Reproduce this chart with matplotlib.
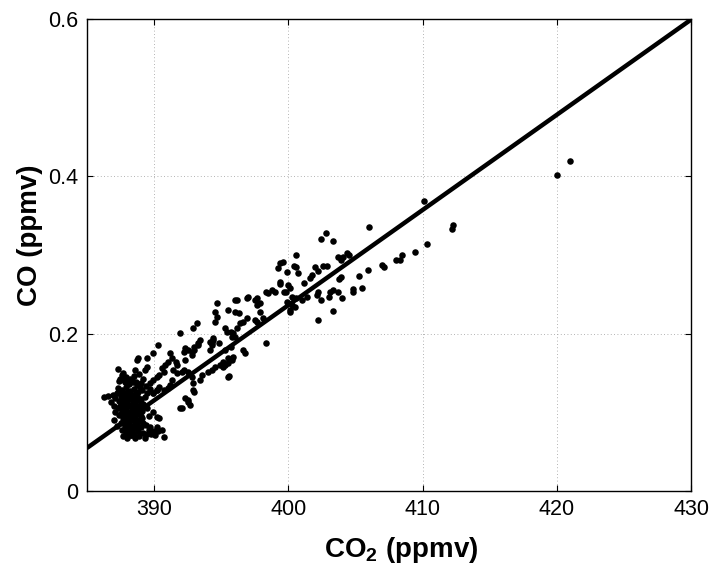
import numpy as np
import matplotlib
matplotlib.use("Agg")
import matplotlib.pyplot as plt

# datos (CO2 en ppmv, CO en ppmv)
co2_points = [
    # zona alta / derecha
    421.0, 420.0, 410.1, 410.3, 412.3, 412.2, 406.0,
    409.4, 408.5, 408.3, 408.0, 407.0, 407.1, 405.9, 405.3, 405.5, 404.8, 404.8,
    404.4, 404.1, 403.9, 403.9,
    402.8, 402.4, 403.3, 400.6, 399.6, 399.4,
    400.4, 400.7, 399.9, 402.0, 402.2, 402.6, 402.9,
    403.7, 404.5, 403.8, 401.8, 401.6, 401.2, 400.1, 399.7, 399.4, 399.4,
    403.3, 403.1, 403.7, 404.0, 403.0, 402.2, 402.4, 402.1, 403.3, 402.2,
    401.4, 401.0, 400.6, 400.3, 400.5, 400.1, 399.9,
    # zona media
    399.2, 400.6, 400.0, 399.8, 399.0, 398.8, 398.5, 398.3, 400.3, 400.1,
    397.7, 397.5, 397.7, 397.9, 396.9, 397.0, 396.2, 396.0, 396.3, 397.9,
    398.1, 397.7, 397.5, 396.6, 396.9, 396.4,
    394.7, 394.5, 394.7, 394.5, 395.5, 396.0,
    395.3, 395.4, 395.7, 395.9, 395.8, 396.0, 396.2, 398.3, 394.4, 394.2, 394.3,
    396.6, 396.8, 395.9, 395.8, 395.5, 395.3, 395.1,
    393.2, 392.9, 391.9, 390.3, 389.9,
    393.4, 393.3, 393.0, 392.8, 392.5, 392.2, 392.3,
    394.4, 394.3, 394.2, 394.8,
    391.2, 391.3, 391.0, 390.8, 390.6, 390.7, 390.4, 390.2, 389.9, 389.7,
    391.6, 391.7, 391.4, 391.3, 391.7,
    392.2, 392.5, 392.8, 392.9, 393.4, 393.6, 394.0, 394.3, 394.5,
    392.9, 392.3, 392.5, 392.7, 391.9,
    391.2, 391.0, 390.7, 390.4, 390.2, 389.9,
    390.2, 390.4,
    395.1, 395.5, 395.7, 395.3, 394.9, 395.5, 395.6,
    392.3, 392.1, 392.8, 393.0, 393.3,
    393.0, 392.5, 392.1,
    390.6, 390.1, 390.7, 390.2,
    # nube densa
    387.6, 387.9, 388.2, 388.5, 388.9, 389.2, 387.4, 387.8, 388.1, 388.4,
    388.7, 389.0, 389.4, 387.3, 387.6, 387.9, 388.2, 388.5, 388.8, 389.1,
    389.5, 387.2, 387.5, 387.8, 388.1, 388.4, 388.7, 389.0, 389.3, 387.4,
    387.7, 388.0, 388.3, 388.6, 388.9, 389.2, 387.3, 387.6, 387.9, 388.2,
    388.5, 388.8, 389.1, 387.4, 387.7, 388.0, 388.3, 388.6, 388.9, 387.5,
    387.8, 388.1, 388.4, 388.7, 389.0, 389.4, 387.6, 387.9, 388.2, 388.5,
    388.8, 389.2, 389.6, 387.7, 388.0, 388.3, 388.6, 388.9, 389.3, 389.8,
    390.0, 389.7,
    387.45, 387.75, 388.05, 388.35, 388.65, 388.95, 387.35, 387.65, 387.95,
    388.25, 388.55, 388.85, 387.5, 387.8, 388.1, 388.4, 388.7, 389.0,
    387.45, 387.75, 388.05, 388.35, 388.65, 388.95, 387.55, 387.85, 388.15,
    388.45, 388.75, 389.05, 387.65, 387.95, 388.25, 388.55, 388.85, 389.15,
    387.8, 388.1, 388.4, 388.7, 389.45, 389.9, 390.3, 389.1, 388.3, 387.9,
    386.3, 386.6, 386.9, 387.1, 386.8, 387.0, 387.1, 387.0, 387.2,
    387.7, 387.3, 388.6, 388.7, 388.8, 389.3, 389.5, 389.5,
    389.7, 389.9, 390.2, 389.6, 389.9, 389.5,
]

co_points = [
    0.420, 0.402, 0.369, 0.314, 0.338, 0.333, 0.336,
    0.304, 0.300, 0.294, 0.294, 0.287, 0.285, 0.281, 0.273, 0.258, 0.257, 0.253,
    0.302, 0.297, 0.294, 0.272,
    0.328, 0.320, 0.318, 0.300, 0.291, 0.290,
    0.286, 0.277, 0.278, 0.285, 0.280, 0.286, 0.286,
    0.297, 0.300, 0.269, 0.275, 0.271, 0.264, 0.258, 0.253, 0.266, 0.263,
    0.256, 0.253, 0.253, 0.245, 0.247, 0.253, 0.243, 0.249, 0.229, 0.217,
    0.247, 0.243, 0.245, 0.247, 0.234, 0.230, 0.240,
    0.283, 0.285, 0.262, 0.253, 0.253, 0.256, 0.252, 0.253, 0.236, 0.228,
    0.245, 0.243, 0.236, 0.239, 0.245, 0.247, 0.243, 0.228, 0.226, 0.228,
    0.220, 0.215, 0.217, 0.215, 0.220, 0.214,
    0.239, 0.228, 0.221, 0.215, 0.230, 0.243,
    0.207, 0.202, 0.202, 0.201, 0.196, 0.196, 0.207, 0.188, 0.194, 0.189, 0.188,
    0.179, 0.175, 0.170, 0.167, 0.163, 0.160, 0.158,
    0.214, 0.207, 0.201, 0.186, 0.175,
    0.192, 0.186, 0.179, 0.177, 0.179, 0.177, 0.182,
    0.192, 0.186, 0.179, 0.188,
    0.175, 0.169, 0.164, 0.160, 0.156, 0.151, 0.147, 0.145, 0.141, 0.137,
    0.164, 0.160, 0.154, 0.141, 0.150,
    0.154, 0.151, 0.145, 0.137, 0.141, 0.147, 0.151, 0.154, 0.158,
    0.128, 0.118, 0.116, 0.109, 0.106,
    0.135, 0.131, 0.128, 0.132, 0.128, 0.125,
    0.094, 0.093,
    0.164, 0.169, 0.183, 0.179, 0.160, 0.145, 0.146,
    0.167, 0.151, 0.173, 0.183, 0.188,
    0.126, 0.113, 0.106,
    0.078, 0.071, 0.069, 0.081,
    0.148, 0.145, 0.143, 0.146, 0.149, 0.142, 0.140, 0.138, 0.136, 0.139,
    0.135, 0.137, 0.134, 0.131, 0.129, 0.132, 0.127, 0.130, 0.126, 0.129,
    0.125, 0.124, 0.121, 0.119, 0.122, 0.118, 0.121, 0.117, 0.120, 0.114,
    0.111, 0.113, 0.109, 0.112, 0.108, 0.111, 0.105, 0.102, 0.104, 0.100,
    0.103, 0.099, 0.102, 0.096, 0.093, 0.095, 0.091, 0.094, 0.090, 0.087,
    0.084, 0.086, 0.082, 0.085, 0.081, 0.084, 0.078, 0.075, 0.077, 0.073,
    0.076, 0.074, 0.077, 0.070, 0.068, 0.071, 0.067, 0.070, 0.068, 0.072,
    0.076, 0.081,
    0.1425, 0.1405, 0.1395, 0.1415, 0.1385, 0.1325, 0.1265, 0.1235, 0.1255,
    0.1215, 0.1235, 0.1165, 0.1155, 0.1135, 0.1165, 0.1145, 0.1155, 0.1125,
    0.1075, 0.1065, 0.1085, 0.1055, 0.1065, 0.1045, 0.0985, 0.0975, 0.0995,
    0.0965, 0.0975, 0.0955, 0.0895, 0.0885, 0.0905, 0.0875, 0.0885, 0.0865,
    0.0805, 0.0795, 0.0785, 0.0795, 0.0725, 0.0745, 0.0765, 0.0925, 0.0715, 0.0725,
    0.120, 0.121, 0.122, 0.118, 0.113, 0.108, 0.100, 0.090, 0.083,
    0.150, 0.155, 0.154, 0.167, 0.169, 0.154, 0.158, 0.169,
    0.130, 0.125, 0.128, 0.095, 0.100, 0.105,
]

# recta de ajuste
fit_slope = 0.01210
fit_intercept = -4.6038

x_ticks = [390, 400, 410, 420, 430]
y_ticks = [0, 0.2, 0.4, 0.6]
y_tick_labels = ["0", "0.2", "0.4", "0.6"]

plt.rcParams["font.family"] = ["Liberation Sans", "DejaVu Sans"]
plt.rcParams["mathtext.fontset"] = "custom"
plt.rcParams["mathtext.rm"] = "Liberation Sans:bold"
plt.rcParams["mathtext.bf"] = "Liberation Sans:bold"

fig = plt.figure(figsize=(7.18, 5.68), dpi=100)
ax = fig.add_axes([87 / 718, 1 - 491 / 568, 604 / 718, 472 / 568])

ax.plot(co2_points, co_points, "o", color="black", markersize=4.7,
        markeredgewidth=0, zorder=3)

x_line = np.array([385, 430])
ax.plot(x_line, fit_slope * x_line + fit_intercept, color="black",
        linewidth=3.2, zorder=4, solid_capstyle="butt")

ax.set_xlim(385, 430)
ax.set_ylim(0, 0.6)
ax.set_xticks(x_ticks)
ax.set_yticks(y_ticks)
ax.set_yticklabels(y_tick_labels)
ax.tick_params(direction="in", top=True, right=True, length=4,
               labelsize=15.5, width=0.8, pad=6)
ax.grid(True, color="#9a9a9a", linestyle=(0, (1, 3)), linewidth=0.6)

for s in ax.spines.values():
    s.set_linewidth(1.0)
    s.set_color("black")

ax.set_xlabel(r"CO$_\mathbf{2}$ (ppmv)", fontsize=20, fontweight="bold")
ax.set_ylabel("CO (ppmv)", fontsize=20, fontweight="bold")
ax.xaxis.set_label_coords(0.52, -0.125)
ax.xaxis.label.set_va("center")
ax.yaxis.set_label_coords(-0.095, 0.542)
ax.yaxis.label.set_va("center")

fig.savefig("out.png", dpi=100)
